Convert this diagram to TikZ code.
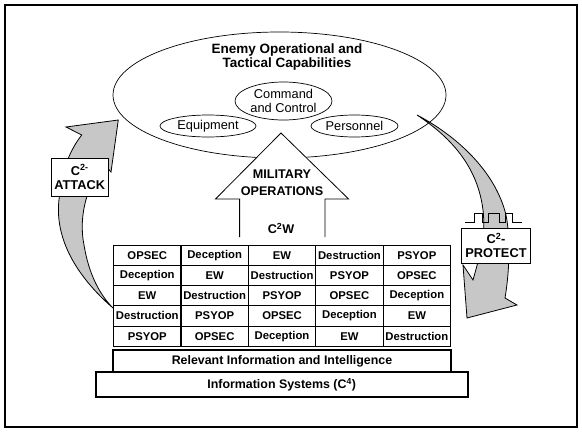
\documentclass[tikz,border=0pt]{standalone}
\usepackage{fontspec}
\setmainfont{Liberation Sans}
\usetikzlibrary{shapes.geometric}

\begin{document}
\begin{tikzpicture}[x=1pt,y=-1pt,
    oval/.style={ellipse, draw, line width=0.7pt, inner sep=0pt, align=center,
      font=\fontsize{12.8}{14.2}\selectfont},
    cell/.style={draw, line width=1.1pt, minimum width=67.4pt, minimum height=20.2pt,
      inner sep=0pt, anchor=north west, font=\fontsize{11.3}{12}\selectfont\bfseries},
    layer/.style={draw, line width=1.8pt, inner sep=0pt, fill=white,
      font=\fontsize{12.4}{13}\selectfont\bfseries},
    tag/.style={draw, fill=white, line width=0.9pt, inner sep=0pt, align=center,
      font=\fontsize{12.8}{14}\selectfont\bfseries},
    swirl/.style={fill=black!22, draw, line width=0.8pt}]
\useasboundingbox (0,0) rectangle (582,434);
\draw[line width=1.6pt] (5,5) rectangle (577,427);

% C2-attack arrow, table up to the ellipse
\draw[swirl] (113,308) .. controls (75,275) and (52,235) .. (60,193)
  .. controls (62,170) and (70,150) .. (81.7,135) -- (66,127) -- (118.3,120)
  -- (111,172) -- (103,163) .. controls (88,185) and (78,215) .. (84,245)
  .. controls (89,275) and (100,295) .. (113,308) -- cycle;
% C2-protect arrow, ellipse down to the side
\draw[swirl] (417,115) .. controls (455,135) and (495,170) .. (506,215)
  .. controls (511,240) and (509,275) .. (505,298) -- (517,305) -- (467,318)
  -- (463,265) -- (473,280) .. controls (480,255) and (486,235) .. (483,210)
  .. controls (478,170) and (455,140) .. (417,115) -- cycle;
\draw[line width=0.8pt] (465,222) -- (474,222) -- (474,213) -- (482,213) -- (482,222)
  -- (488,222) -- (488,213) -- (499,213) -- (499,222) -- (505,222) -- (505,213)
  -- (512,213) -- (512,222) -- (522,222);
\node[tag, minimum width=57.4pt, minimum height=38pt] (attack) at (79.7,177)
  {C\textsuperscript{2-}\\ATTACK};
\node[tag, minimum width=68.3pt, minimum height=35pt] (protect) at (496,245.5)
  {C\textsuperscript{2}-\\PROTECT};

% enemy capabilities
\node[ellipse, draw, line width=0.7pt, minimum width=333pt, minimum height=126pt,
  inner sep=0pt] (enemy) at (279.5,95) {};
\node[align=center, font=\fontsize{13.5}{14}\selectfont\bfseries] (enemytitle)
  at (287,57.5) {Enemy Operational and\\Tactical Capabilities};
\node[oval, minimum width=97pt, minimum height=38pt] (cmd) at (283.5,101)
  {Command\\and Control};
\node[oval, minimum width=96pt, minimum height=22pt] (equip) at (208,126) {Equipment};
\node[oval, minimum width=87pt, minimum height=22pt] (pers) at (354.5,126) {Personnel};

% military operations arrow
\fill[white] (239.6,237) -- (239.6,199) -- (215.5,199) -- (281,133) -- (348.6,199)
  -- (325,199) -- (325,237) -- cycle;
\draw[line width=0.8pt] (239.6,237) -- (239.6,199) -- (215.5,199) -- (281,133)
  -- (348.6,199) -- (325,199) -- (325,237);
\node[align=center, font=\fontsize{12.6}{17.5}\selectfont\bfseries] (milops)
  at (282,182.5) {MILITARY\\OPERATIONS};
\node[font=\fontsize{12.6}{13}\selectfont\bfseries] (ctwow) at (281,228.5)
  {C\textsuperscript{2}W};

% c2w elements
\foreach \row [count=\r] in {{OPSEC,Deception,EW,Destruction,PSYOP},
    {Deception,EW,Destruction,PSYOP,OPSEC},{EW,Destruction,PSYOP,OPSEC,Deception},
    {Destruction,PSYOP,OPSEC,Deception,EW},{PSYOP,OPSEC,Deception,EW,Destruction}}
  \foreach \item [count=\c] in \row
    \node[cell] (cell-\r-\c) at ({113+67.4*(\c-1)},{244.7+20.2*(\r-1)}) {\item};

\node[layer, minimum width=338pt, minimum height=22pt] (relinfo) at (282,361)
  {Relevant Information and Intelligence};
\node[layer, minimum width=372pt, minimum height=25pt] (infosys) at (281.7,384.5)
  {Information Systems (C\textsuperscript{4})};
\end{tikzpicture}
\end{document}
